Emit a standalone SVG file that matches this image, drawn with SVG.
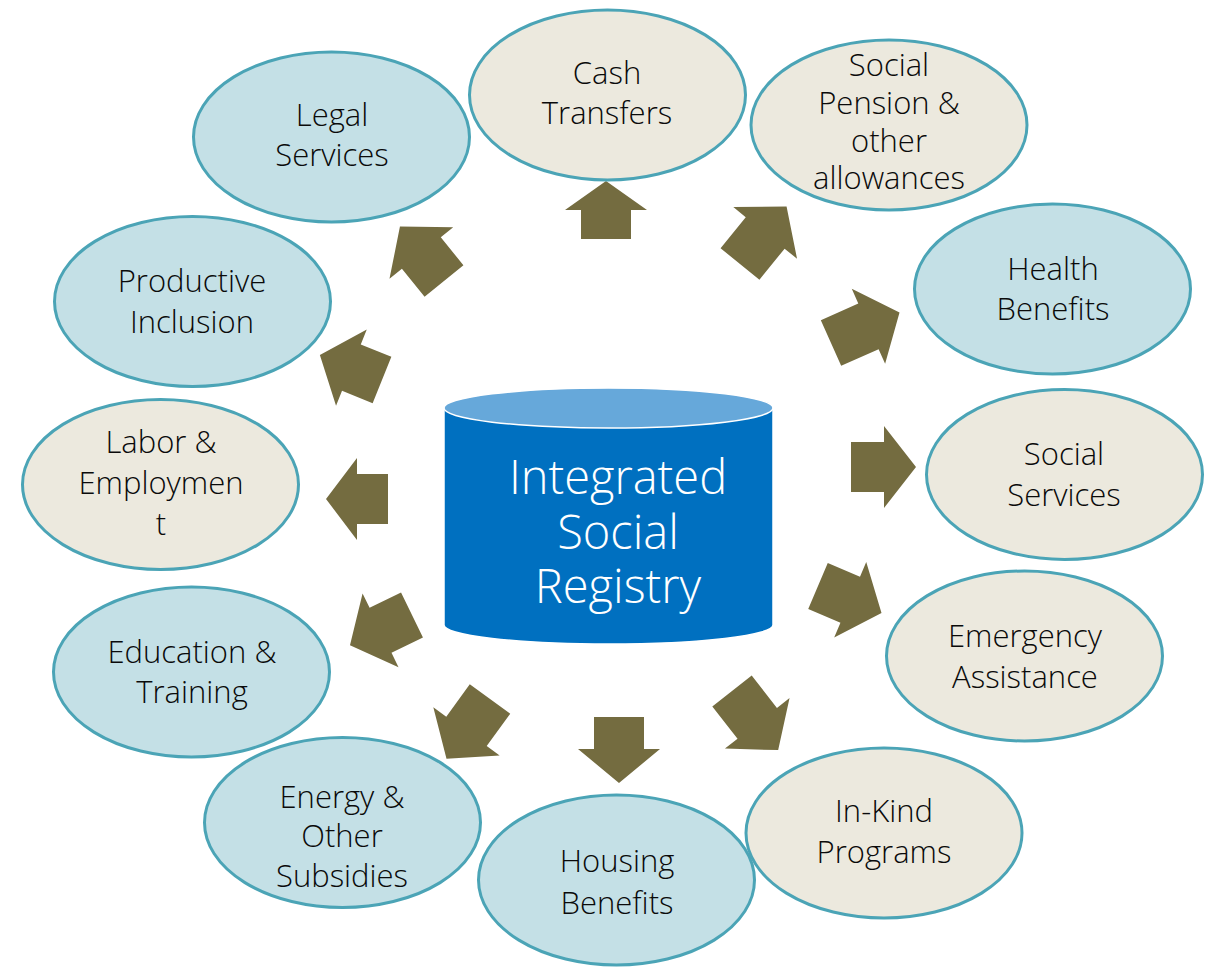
<svg xmlns="http://www.w3.org/2000/svg" width="1217" height="967" viewBox="0 0 1217 967">
  <style>
    .node-blue { fill: #C4E0E6; stroke: #4BA4B6; stroke-width: 3; }
    .node-beige { fill: #ECE9DE; stroke: #4BA4B6; stroke-width: 3; }
    .label { font-family: "Open Sans", Lato, "Liberation Sans", sans-serif; font-weight: 300; font-size: 31px; fill: #0A0A0A; text-anchor: middle; }
    .hub-label { font-family: "Open Sans", Lato, "Liberation Sans", sans-serif; font-weight: 300; font-size: 47px; fill: #FFFFFF; text-anchor: middle; }
    .arrow { fill: #746C40; }
  </style>
  <rect width="1217" height="967" fill="#FFFFFF"/>

  <!-- central database cylinder -->
  <g id="hub">
    <path d="M444,408 L444,625 A164.5,19 0 0 0 773,625 L773,408 Z" fill="#0070C0" stroke="#FFFFFF" stroke-width="1.5"/>
    <ellipse cx="608.5" cy="408" rx="164.5" ry="20" fill="#66A8DA" stroke="#FFFFFF" stroke-width="1.5"/>
    <text class="hub-label"><tspan x="618" y="494">Integrated</tspan><tspan x="618" y="549">Social</tspan><tspan x="618" y="603">Registry</tspan></text>
  </g>

  <!-- radial block arrows from the registry to each programme -->
  <g id="connectors">
    <polygon class="arrow" transform="translate(606,239) rotate(-90)" points="0,-25 29,-25 29,-41 58,0 29,41 29,25 0,25"/>
    <polygon class="arrow" transform="translate(740,264) rotate(-51)" points="0,-25 40,-25 40,-41 74,0 40,41 40,25 0,25"/>
    <polygon class="arrow" transform="translate(831,343) rotate(-24)" points="0,-25 41,-25 41,-41 75,0 41,41 41,25 0,25"/>
    <polygon class="arrow" transform="translate(851,467) rotate(0)" points="0,-25 33,-25 33,-41 65,0 33,41 33,25 0,25"/>
    <polygon class="arrow" transform="translate(818,586) rotate(23)" points="0,-25 35,-25 35,-41 69,0 35,41 35,25 0,25"/>
    <polygon class="arrow" transform="translate(732,691) rotate(52)" points="0,-25 41,-25 41,-41 75,0 41,41 41,25 0,25"/>
    <polygon class="arrow" transform="translate(619,717) rotate(90)" points="0,-25 32,-25 32,-41 66,0 32,41 32,25 0,25"/>
    <polygon class="arrow" transform="translate(490,699) rotate(126)" points="0,-25 40,-25 40,-41 74,0 40,41 40,25 0,25"/>
    <polygon class="arrow" transform="translate(412,615) rotate(154)" points="0,-25 35,-25 35,-41 69,0 35,41 35,25 0,25"/>
    <polygon class="arrow" transform="translate(388,499) rotate(180)" points="0,-25 31,-25 31,-41 62,0 31,41 31,25 0,25"/>
    <polygon class="arrow" transform="translate(382,380) rotate(-158)" points="0,-25 33,-25 33,-41 67,0 33,41 33,25 0,25"/>
    <polygon class="arrow" transform="translate(444,281) rotate(-129)" points="0,-25 36,-25 36,-41 70,0 36,41 36,25 0,25"/>
  </g>

  <g id="cash-transfers">
    <ellipse class="node-beige" cx="607.5" cy="95" rx="138" ry="85"/>
    <text class="label"><tspan x="607" y="84">Cash</tspan><tspan x="607" y="124">Transfers</tspan></text>
  </g>
  <g id="social-pension">
    <ellipse class="node-beige" cx="889" cy="125" rx="138" ry="85"/>
    <text class="label"><tspan x="889" y="76">Social</tspan><tspan x="889" y="114">Pension &amp;</tspan><tspan x="889" y="152">other</tspan><tspan x="889" y="189">allowances</tspan></text>
  </g>
  <g id="health-benefits">
    <ellipse class="node-blue" cx="1052.5" cy="289" rx="138" ry="85"/>
    <text class="label"><tspan x="1053" y="280">Health</tspan><tspan x="1053" y="320">Benefits</tspan></text>
  </g>
  <g id="social-services">
    <ellipse class="node-beige" cx="1064.5" cy="474.5" rx="138" ry="85"/>
    <text class="label"><tspan x="1064" y="465">Social</tspan><tspan x="1064" y="506">Services</tspan></text>
  </g>
  <g id="emergency-assistance">
    <ellipse class="node-beige" cx="1024.5" cy="656" rx="138" ry="85"/>
    <text class="label"><tspan x="1025" y="647">Emergency</tspan><tspan x="1025" y="688">Assistance</tspan></text>
  </g>
  <g id="in-kind-programs">
    <ellipse class="node-beige" cx="884" cy="833" rx="138" ry="85"/>
    <text class="label"><tspan x="884" y="822">In-Kind</tspan><tspan x="884" y="863">Programs</tspan></text>
  </g>
  <g id="housing-benefits">
    <ellipse class="node-blue" cx="616.5" cy="880" rx="138" ry="85"/>
    <text class="label"><tspan x="617" y="872">Housing</tspan><tspan x="617" y="914">Benefits</tspan></text>
  </g>
  <g id="energy-subsidies">
    <ellipse class="node-blue" cx="342.5" cy="822.5" rx="138" ry="85"/>
    <text class="label"><tspan x="342" y="808">Energy &amp;</tspan><tspan x="342" y="847">Other</tspan><tspan x="342" y="887">Subsidies</tspan></text>
  </g>
  <g id="education-training">
    <ellipse class="node-blue" cx="191.5" cy="672" rx="138" ry="85"/>
    <text class="label"><tspan x="192" y="663">Education &amp;</tspan><tspan x="192" y="703">Training</tspan></text>
  </g>
  <g id="labor-employment">
    <ellipse class="node-beige" cx="160.5" cy="484.5" rx="138" ry="85"/>
    <text class="label"><tspan x="161" y="453">Labor &amp;</tspan><tspan x="161" y="494">Employmen</tspan><tspan x="161" y="535">t</tspan></text>
  </g>
  <g id="productive-inclusion">
    <ellipse class="node-blue" cx="192.5" cy="301.5" rx="138" ry="85"/>
    <text class="label"><tspan x="192" y="292">Productive</tspan><tspan x="192" y="333">Inclusion</tspan></text>
  </g>
  <g id="legal-services">
    <ellipse class="node-blue" cx="331.5" cy="137" rx="138" ry="85"/>
    <text class="label"><tspan x="332" y="126">Legal</tspan><tspan x="332" y="166">Services</tspan></text>
  </g>
</svg>
